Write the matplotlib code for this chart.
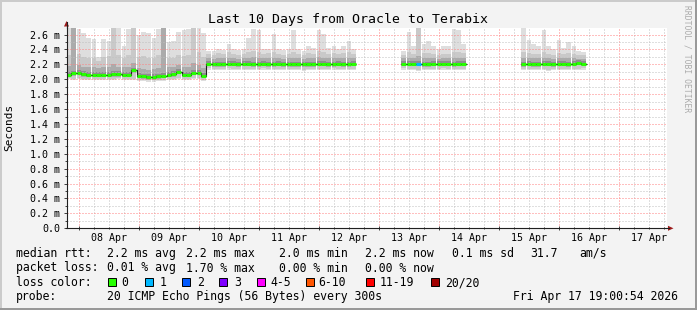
import numpy as np
import matplotlib
matplotlib.use("Agg")
import matplotlib.pyplot as plt
import matplotlib.dates as mdates
from matplotlib.ticker import MultipleLocator, FuncFormatter, NullFormatter
from matplotlib.patches import Rectangle, Polygon
from matplotlib.lines import Line2D
from datetime import datetime

# ---------------- data ----------------
title = "Last 10 Days from Oracle to Terabix"
start_time = datetime(2026, 4, 7, 19, 0)
end_time = datetime(2026, 4, 17, 19, 0)
bin_hours = 2  # each value covers 2 hours

# median round trip time (ms) per 2h bin, None = no data
median_ms = (
    [2.06, 2.08, 2.09, 2.07, 2.06, 2.06, 2.06, 2.06, 2.06, 2.07, 2.07, 2.06, 2.06, 2.12,
     2.05, 2.04, 2.03, 2.03, 2.04, 2.05, 2.06, 2.07, 2.10, 2.06, 2.06, 2.09, 2.09, 2.05]
    + [2.21, 2.20, 2.20, 2.20, 2.21, 2.21, 2.20, 2.21, 2.21, 2.20, 2.20, 2.21, 2.20, 2.20, 2.21,
       2.20, 2.20, 2.20, 2.20, 2.20, 2.20, 2.20, 2.21, 2.21, 2.20, 2.20, 2.21, 2.20, 2.20, 2.21]
    + [None] * 9
    + [2.21, 2.21, 2.21, 2.21, 2.20, 2.20, 2.21, 2.21, 2.21, 2.21, 2.20, 2.21, 2.21]
    + [None] * 11
    + [2.20, 2.21, 2.20, 2.20, 2.21, 2.21, 2.20, 2.21, 2.21, 2.20, 2.21, 2.22, 2.21]
    + [None] * 16
)

# highest ping of the bin (top of light smoke)
smoke_max_ms = (
    [2.70, 2.70, 2.68, 2.62, 2.55, 2.54, 2.30, 2.54, 2.52, 2.65, 2.70, 2.45, 2.68, 2.70,
     2.60, 2.64, 2.62, 2.55, 2.68, 2.70, 2.50, 2.52, 2.64, 2.66, 2.68, 2.70, 2.70, 2.62]
    + [2.38, 2.38, 2.41, 2.39, 2.48, 2.40, 2.39, 2.40, 2.56, 2.67, 2.66, 2.40, 2.41, 2.61, 2.40,
       2.39, 2.40, 2.66, 2.40, 2.38, 2.45, 2.42, 2.66, 2.61, 2.42, 2.44, 2.40, 2.45, 2.51, 2.40]
    + [None] * 9
    + [2.38, 2.63, 2.45, 2.70, 2.48, 2.52, 2.44, 2.40, 2.44, 2.44, 2.68, 2.66, 2.48]
    + [None] * 11
    + [2.70, 2.53, 2.48, 2.45, 2.66, 2.45, 2.40, 2.53, 2.42, 2.50, 2.44, 2.38, 2.37]
    + [None] * 16
)

# upper edge of the medium smoke band
smoke_mid_ms = (
    [2.32, 2.70, 2.34, 2.30, 2.28, 2.29, 2.24, 2.30, 2.31, 2.70, 2.33, 2.28, 2.32, 2.70,
     2.30, 2.31, 2.29, 2.28, 2.33, 2.70, 2.28, 2.29, 2.32, 2.31, 2.33, 2.70, 2.36, 2.30]
    + [2.34, 2.33, 2.35, 2.34, 2.36, 2.34, 2.33, 2.34, 2.37, 2.38, 2.36, 2.34, 2.35, 2.37, 2.34,
       2.33, 2.34, 2.37, 2.34, 2.33, 2.35, 2.34, 2.38, 2.36, 2.34, 2.35, 2.34, 2.35, 2.36, 2.34]
    + [None] * 9
    + [2.33, 2.36, 2.34, 2.70, 2.35, 2.35, 2.34, 2.33, 2.34, 2.34, 2.37, 2.36, 2.35]
    + [None] * 11
    + [2.36, 2.35, 2.34, 2.34, 2.36, 2.34, 2.33, 2.35, 2.34, 2.35, 2.34, 2.33, 2.33]
    + [None] * 16
)

# upper edge of the dark smoke core
smoke_core_ms = (
    [2.18, 2.70, 2.19, 2.17, 2.16, 2.16, 2.15, 2.16, 2.16, 2.20, 2.17, 2.16, 2.17, 2.22,
     2.15, 2.14, 2.13, 2.14, 2.15, 2.70, 2.16, 2.17, 2.19, 2.16, 2.17, 2.22, 2.19, 2.15]
    + [2.28, 2.27, 2.28, 2.28, 2.29, 2.28, 2.27, 2.28, 2.29, 2.30, 2.29, 2.28, 2.28, 2.29, 2.28,
       2.27, 2.28, 2.29, 2.28, 2.27, 2.28, 2.28, 2.30, 2.29, 2.28, 2.28, 2.28, 2.28, 2.29, 2.28]
    + [None] * 9
    + [2.28, 2.29, 2.28, 2.31, 2.28, 2.28, 2.28, 2.27, 2.28, 2.28, 2.29, 2.29, 2.28]
    + [None] * 11
    + [2.29, 2.28, 2.28, 2.28, 2.29, 2.28, 2.27, 2.28, 2.28, 2.28, 2.28, 2.27, 2.27]
    + [None] * 16
)

# lowest ping of the bin (bottom of smoke)
smoke_min_ms = (
    [2.00, 1.99, 2.00, 1.99, 1.99, 1.99, 1.99, 1.99, 1.99, 1.99, 2.00, 1.99, 1.99, 1.99,
     1.98, 1.98, 1.97, 1.97, 1.98, 1.98, 1.99, 1.99, 2.00, 1.99, 1.99, 2.00, 2.00, 1.98]
    + [2.13, 2.12, 2.12, 2.12, 2.13, 2.12, 2.12, 2.12, 2.12, 2.12, 2.12, 2.13, 2.12, 2.12, 2.12,
       2.12, 2.12, 2.12, 2.12, 2.11, 2.12, 2.12, 2.12, 2.12, 2.12, 2.13, 2.12, 2.12, 2.12, 2.12]
    + [None] * 9
    + [2.13, 2.12, 2.12, 2.11, 2.12, 2.12, 2.12, 2.12, 2.13, 2.12, 2.12, 2.12, 2.12]
    + [None] * 11
    + [2.12, 2.12, 2.12, 2.12, 2.12, 2.11, 2.12, 2.12, 2.12, 2.12, 2.12, 2.12, 2.13]
    + [None] * 16
)

# lost pings (of 20) per bin
loss_pings = (
    [0] * 28 + [0] * 30 + [None] * 9
    + [0, 0, 0, 1, 0, 0, 0, 0, 0, 0, 0, 0, 0]
    + [None] * 11 + [0] * 13 + [None] * 16
)

loss_labels = ["0", "1", "2", "3", "4-5", "6-10", "11-19", "20/20"]
loss_colors = ["#26ff00", "#00b8ff", "#0059ff", "#7e00ff", "#ff00ff", "#ff5500", "#ff0000", "#a10000"]

stats_rtt = [("2.2 ms avg", 107), ("2.2 ms max", 186), ("2.0 ms min", 279),
             ("2.2 ms now", 365), ("0.1 ms sd", 451.5), ("31.7", 530), ("am/s", 579)]
stats_loss = [("0.01 % avg", 107), ("1.70 % max", 186), ("0.00 % min", 279), ("0.00 % now", 365)]
probe_text = "20 ICMP Echo Pings (56 Bytes) every 300s"
stamp_text = "Fri Apr 17 19:00:54 2026"

# ---------------- figure ----------------
W, H = 697, 310
MONO = "DejaVu Sans Mono"
plt.rcParams["font.family"] = [MONO, "DejaVu Sans"]

fig = plt.figure(figsize=(W / 100, H / 100), dpi=100, facecolor="#f3f3f3")

def fx(px):
    return px / W

def fy(py):
    return 1 - py / H

ax_l, ax_r, ax_t, ax_b = 66.5, 666.5, 27.5, 228.3
ax = fig.add_axes([fx(ax_l), fy(ax_b), (ax_r - ax_l) / W, (ax_b - ax_t) / H])
ax.set_facecolor("white")

def arr(lst):
    return np.array([np.nan if v is None else v for v in lst], dtype=float)

med = arr(median_ms)
hi = arr(smoke_max_ms)
mid = arr(smoke_mid_ms)
core = arr(smoke_core_ms)
lo = arr(smoke_min_ms)
loss = arr(loss_pings)

t0 = mdates.date2num(start_time)
w = bin_hours / 24.0
left = t0 + np.arange(len(med)) * w
valid = ~np.isnan(med)
L = left[valid]

kw = dict(width=w, align="edge", linewidth=0, antialiased=False)
ax.bar(L, (hi - lo)[valid], bottom=lo[valid], color="#dedede", zorder=1, **kw)
ax.bar(L, (mid - (lo + 0.015))[valid], bottom=(lo + 0.015)[valid], color="#c9c9c9", zorder=1.1, **kw)
ax.bar(L, (core - (med - 0.035))[valid], bottom=(med - 0.035)[valid], color="#ababab", zorder=1.2, **kw)
ax.bar(L, np.full(valid.sum(), 0.055), bottom=(med - 0.02)[valid], color="#8e8e8e", zorder=1.3, **kw)

# median line: thin dark step + loss-colored thick segments
edges = np.append(left, left[-1] + w)
ax.step(edges, np.append(med, med[-1]), where="post", color="#202020", lw=0.8, zorder=3,
        solid_capstyle="butt")

def loss_color(v):
    if v == 0:
        return loss_colors[0]
    if v == 1:
        return loss_colors[1]
    if v == 2:
        return loss_colors[2]
    if v == 3:
        return loss_colors[3]
    if v <= 5:
        return loss_colors[4]
    if v <= 10:
        return loss_colors[5]
    if v <= 19:
        return loss_colors[6]
    return loss_colors[7]

cols = [loss_color(v) for v in loss[valid]]
ax.hlines(med[valid], L, L + w, colors=cols, lw=2.2, zorder=3.5, capstyle="butt")

# axes limits / ticks
ax.set_xlim(t0, mdates.date2num(end_time))
ax.set_ylim(0, 2.695)

ax.xaxis.set_major_locator(mdates.DayLocator())
ax.xaxis.set_minor_locator(mdates.HourLocator(byhour=[6, 12, 18]))
ax.xaxis.set_major_formatter(NullFormatter())

def xfmt(x, pos):
    d = mdates.num2date(x)
    return d.strftime("%d %b") if d.hour == 12 else ""

ax.xaxis.set_minor_formatter(FuncFormatter(xfmt))

ax.yaxis.set_major_locator(MultipleLocator(0.2))
ax.yaxis.set_minor_locator(MultipleLocator(0.1))
ax.yaxis.set_major_formatter(FuncFormatter(lambda v, p: "0.0" if abs(v) < 1e-9 else f"{v:.1f} m"))

ax.tick_params(axis="x", which="major", direction="inout", length=3, width=0.7, color="#404040")
ax.tick_params(axis="x", which="minor", direction="inout", length=2, width=0.7, color="#404040",
               labelsize=7.2, pad=2.2)
ax.tick_params(axis="y", which="major", direction="out", length=2.2, width=0.7, color="#404040",
               labelsize=7.2, pad=2.5)
ax.tick_params(axis="y", which="minor", direction="out", length=1.2, width=0.7, color="#404040")

ax.set_axisbelow(False)
ax.grid(True, which="minor", color="#c0c0c0", linestyle=(0, (1, 2)), linewidth=0.72, zorder=2)
ax.grid(True, which="major", color="#ff8080", linestyle=(0, (1, 2)), linewidth=0.72, zorder=2)

for s in ("top", "right"):
    ax.spines[s].set_visible(False)
for s in ("left", "bottom"):
    ax.spines[s].set_color("#202020")
    ax.spines[s].set_linewidth(0.8)
    ax.spines[s].set_zorder(4)

# axis extensions with arrow heads
fig.add_artist(Line2D([fx(ax_l), fx(ax_l)], [fy(ax_t), fy(22)], transform=fig.transFigure,
                      color="#202020", lw=0.8))
fig.add_artist(Line2D([fx(ax_r), fx(669)], [fy(ax_b), fy(ax_b)], transform=fig.transFigure,
                      color="#202020", lw=0.8))
arrow_c = "#9e1b1b"
fig.add_artist(Polygon([(fx(64), fy(26.5)), (fx(69), fy(26.5)), (fx(66.5), fy(21))],
                       closed=True, transform=fig.transFigure, color=arrow_c, lw=0))
fig.add_artist(Polygon([(fx(668), fy(225.8)), (fx(668), fy(230.8)), (fx(673.5), fy(228.3))],
                       closed=True, transform=fig.transFigure, color=arrow_c, lw=0))

# title, axis label, watermark
fig.text(fx(347.5), fy(23.3), title, ha="center", va="baseline", fontsize=9.5, color="#000000")
fig.text(fx(9.5), fy(127), "Seconds", rotation=90, ha="center", va="center", fontsize=8.0)
fig.text(fx(686.5), fy(5), "RRDTOOL / TOBI OETIKER", rotation=270, ha="center", va="top",
         fontsize=5.8, color="#ababab")

# legend block
fs = 8.3
fig.text(fx(16), fy(257), "median rtt:", ha="left", va="baseline", fontsize=fs)
for txt, x in stats_rtt:
    fig.text(fx(x), fy(257), txt, ha="left", va="baseline", fontsize=fs)
fig.text(fx(16), fy(271.5), "packet loss:", ha="left", va="baseline", fontsize=fs)
for txt, x in stats_loss:
    fig.text(fx(x), fy(271.5), txt, ha="left", va="baseline", fontsize=fs)
fig.text(fx(16), fy(286), "loss color:", ha="left", va="baseline", fontsize=fs)
box_x = [108, 145.3, 182.3, 219.3, 256.7, 306, 366, 430.7]
lab_x = [121.7, 160, 196.7, 234.3, 270.7, 318.3, 380, 445]
for c, lab, bx, lx in zip(loss_colors, loss_labels, box_x, lab_x):
    fig.add_artist(Rectangle((fx(bx), fy(286)), 8 / W, 8 / H, transform=fig.transFigure,
                             facecolor=c, edgecolor="#000000", lw=0.7))
    fig.text(fx(lx), fy(286), lab, ha="left", va="baseline", fontsize=fs)
fig.text(fx(16), fy(300), "probe:", ha="left", va="baseline", fontsize=fs)
fig.text(fx(107), fy(300), probe_text, ha="left", va="baseline", fontsize=fs)
fig.text(fx(513), fy(300), stamp_text, ha="left", va="baseline", fontsize=fs)

# 3D-ish frame
fig.add_artist(Rectangle((0, fy(2)), 1, 2 / H, transform=fig.transFigure, color="#cbcbcb", lw=0))
fig.add_artist(Rectangle((0, 0), 2 / W, 1, transform=fig.transFigure, color="#cbcbcb", lw=0))
fig.add_artist(Rectangle((0, 0), 1, 2.5 / H, transform=fig.transFigure, color="#999999", lw=0))
fig.add_artist(Rectangle((fx(W - 2), 0), 2 / W, 1, transform=fig.transFigure, color="#999999", lw=0))

fig.savefig("out.png", dpi=100, facecolor=fig.get_facecolor())
